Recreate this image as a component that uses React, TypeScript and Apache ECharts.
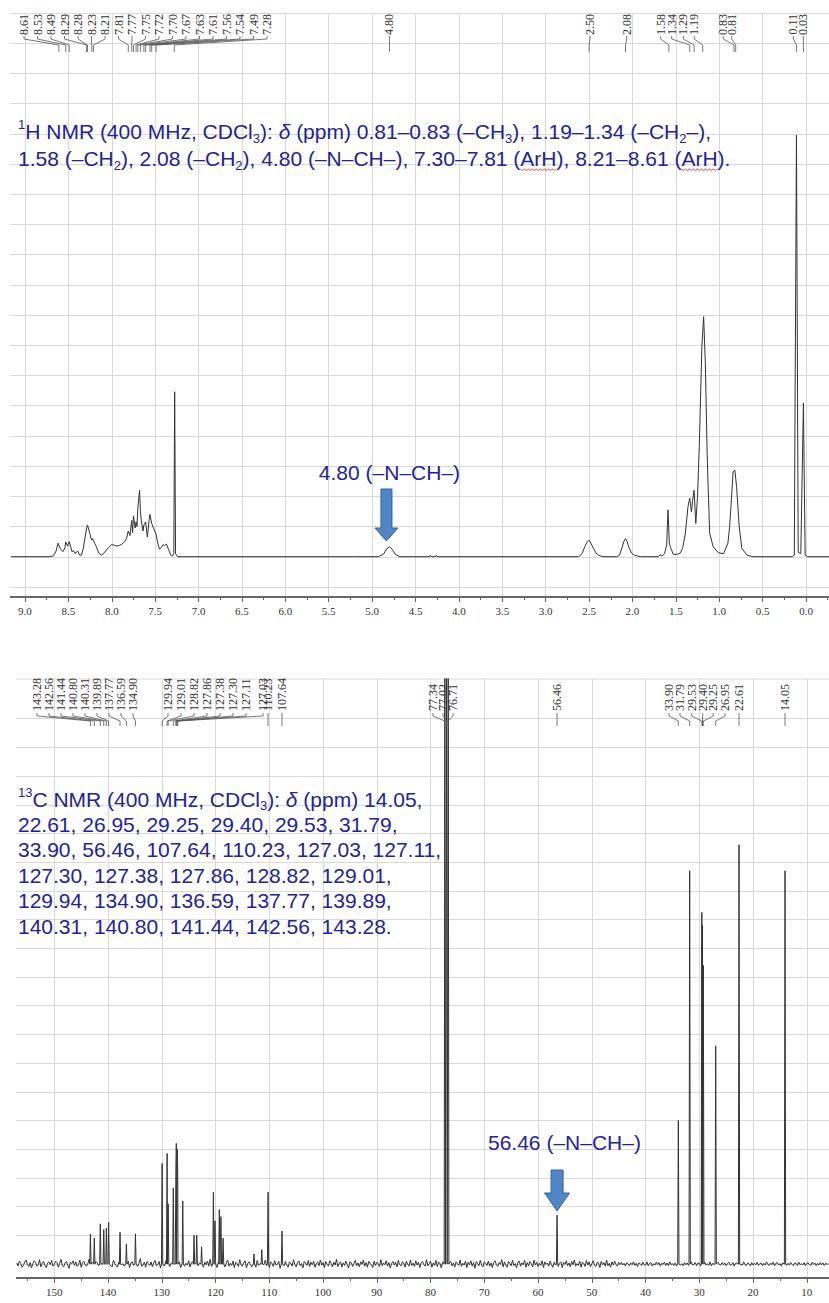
import React, { useEffect, useRef } from "react";
import * as echarts from "echarts";

// ---------------- DATA ----------------
// 1H spectrum trace: [ppm, intensity] (intensity in grid units)
const H_TRACE: [number, number][] = [
  [9.16, 0], [8.72, 0], [8.67, 0.03], [8.64, 0.2], [8.62, 0.45], [8.59, 0.25], [8.56, 0.17], [8.54, 0.3],
  [8.53, 0.49], [8.51, 0.35], [8.49, 0.5], [8.47, 0.3], [8.46, 0.17], [8.44, 0.2], [8.42, 0.1], [8.41, 0.15],
  [8.39, 0.18], [8.37, 0.05], [8.35, 0.05], [8.33, 0.25], [8.31, 0.6], [8.29, 0.95], [8.28, 1.05], [8.26, 0.85],
  [8.24, 0.62], [8.23, 0.55], [8.22, 0.6], [8.21, 0.52], [8.18, 0.35], [8.15, 0.12], [8.12, 0.05], [8.08, 0.15],
  [8.04, 0.3], [8.0, 0.4], [7.97, 0.38], [7.94, 0.35], [7.91, 0.38], [7.89, 0.4], [7.85, 0.5], [7.83, 0.6],
  [7.81, 0.85], [7.79, 0.7], [7.77, 1.2], [7.76, 0.8], [7.75, 1.35], [7.73, 0.95], [7.72, 1.15], [7.71, 1.0],
  [7.7, 1.6], [7.68, 2.2], [7.67, 1.5], [7.66, 1.2], [7.64, 0.85], [7.63, 1.05], [7.61, 1.15], [7.59, 0.65],
  [7.57, 1.2], [7.56, 1.4], [7.54, 1.1], [7.52, 0.95], [7.49, 0.75], [7.47, 0.45], [7.45, 0.25], [7.43, 0.3],
  [7.41, 0.4], [7.39, 0.37], [7.37, 0.42], [7.34, 0.2], [7.32, 0.05], [7.3, 0.02], [7.285, 0.1], [7.275, 5.46],
  [7.265, 0.1], [7.24, 0], [5.2, 0], [4.93, 0], [4.87, 0.08], [4.83, 0.27], [4.8, 0.33], [4.77, 0.25],
  [4.73, 0.07], [4.68, 0], [4.34, 0], [4.33, 0.05], [4.32, 0], [4.27, 0], [4.26, 0.05], [4.25, 0],
  [2.62, 0], [2.58, 0.1], [2.55, 0.33], [2.52, 0.5], [2.5, 0.55], [2.48, 0.45], [2.45, 0.28], [2.42, 0.12],
  [2.39, 0.05], [2.34, 0], [2.18, 0], [2.15, 0.05], [2.12, 0.3], [2.1, 0.5], [2.08, 0.6], [2.06, 0.5],
  [2.04, 0.3], [2.01, 0.12], [1.98, 0.05], [1.91, 0], [1.7, 0], [1.68, 0.07], [1.66, 0.02], [1.63, 0.1],
  [1.605, 0.4], [1.59, 1.55], [1.575, 0.45], [1.56, 0.3], [1.53, 0.08], [1.48, 0.08], [1.45, 0.12], [1.42, 0.3],
  [1.39, 0.78], [1.36, 1.66], [1.34, 1.94], [1.32, 1.48], [1.305, 1.9], [1.29, 2.2], [1.27, 1.1], [1.25, 2.0],
  [1.23, 3.64], [1.2, 6.95], [1.18, 7.95], [1.16, 6.4], [1.14, 3.5], [1.13, 2.54], [1.11, 0.78], [1.07, 0.33],
  [1.01, 0.13], [0.95, 0.1], [0.9, 0.45], [0.88, 1.0], [0.86, 1.88], [0.84, 2.81], [0.82, 2.87], [0.8, 2.32],
  [0.77, 1.0], [0.74, 0.28], [0.68, 0.05], [0.61, 0], [0.16, 0], [0.135, 0.05], [0.11, 13.96], [0.09, 0.15],
  [0.06, 0.1], [0.03, 5.09], [0.01, 0.05], [-0.02, 0], [-0.27, 0],
];

const H_PEAK_LABELS = [
  "8.61", "8.53", "8.49", "8.29", "8.28", "8.23", "8.21", "7.81", "7.77", "7.75", "7.72", "7.70", "7.67",
  "7.63", "7.61", "7.56", "7.54", "7.49", "7.28", "4.80", "2.50", "2.08", "1.58", "1.34", "1.29", "1.19",
  "0.83", "0.81", "0.11", "0.03",
];

// 13C peaks: [ppm, intensity] (intensity in grid units)
const C13_PEAKS: [number, number][] = [
  [143.28, 1.05], [142.56, 0.9], [141.44, 1.4], [140.8, 1.2], [140.31, 1.25], [139.89, 1.45], [137.77, 1.1],
  [136.59, 0.7], [134.9, 1.05], [129.94, 3.5], [129.01, 3.85], [128.82, 2.1], [127.86, 2.65], [127.38, 3.2],
  [127.3, 4.2], [127.11, 4.0], [127.03, 3.15], [126.1, 2.2], [124.0, 1.0], [123.5, 1.0], [122.6, 0.6],
  [120.4, 2.5], [120.1, 1.5], [119.3, 1.9], [119.0, 1.65], [118.6, 0.9], [112.85, 0.35], [111.4, 0.5],
  [110.23, 2.5], [107.64, 1.15], [77.34, 21], [77.02, 21], [76.71, 21], [56.46, 1.7], [33.9, 5.0],
  [31.79, 13.7], [29.53, 12.25], [29.4, 11.8], [29.25, 10.4], [26.95, 7.6], [22.61, 14.6], [14.05, 13.7],
];

// 13C baseline noise (hundredths of a grid unit), from 157 ppm down in 0.25 ppm steps
const C13_NOISE_START = 157;
const C13_NOISE_STEP = 0.25;
const C13_NOISE = [
  3, -5, 8, 2, -9, -4, 6, 11, -2, -7, 4, -11, 1, 9, 5, -6, -3, 12, -8, 2, 7, -4, -10, 3, 6,
  -2, 10, -6, -1, 8, 4, -9, 2, 13, -5, -8, 3, 7, -3, -12, 5, 1, 9, -4, 6, -7, -2, 11, -9, 4,
  8, -3, -6, 2, 14, -8, 5, -1, -10, 7, 3, -5, 9, -2, -7, 4, 12, -11, 1, 6, -4, -8, 10, 2, -5,
  -9, 5, 7, -3, 1, -6, 11, -2, 8, -10, 3, 6, -4, -1, 9, -7, 2, 15, -6, -3, 5, -9, 7, 1, -4,
  6, -8, 3, 10, -5, -2, 7, -11, 4, 1, -6, 9, -3, 12, -7, 2, -4, 8, -9, 5, -1, 6, -10, 3, 11,
  -6, 2, -3, 9, -8, 4, 6, -12, 1, 7, -5, 3, 10, -4, -9, 5, -2, 8, -6, 13, -7, 2, -3, 6, -10,
  4, 9, -5, -1, 7, -8, 3, 11, -6, 2, -4, 8, -10, 5, 1, -7, 12, -3, -6, 4, 9, -11, 2, 6, -2,
  -8, 5, 3, -9, 10, -4, 1, 7, -6, -2, 11, -5, 4, -10, 6, 2, -7, 9, -3, -1, 8, -12, 5, 3, -5,
  7, -3, -9, 6, 2, -6, 12, -2, -8, 4, 9, -5, 1, -11, 7, 3, -4, 10, -7, 5, -2, 8, -9, 1, 6,
  -5, 11, -3, 4, -10, 7, -1, -6, 9, 2, -8, 5, -3, 13, -7, 1, 6, -9, 3, -4, 8, -2, -11, 6, 4,
  -7, 2, 10, -5, 3, -8, 6, -1, 11, -6, 4, -9, 7, 2, -3, -10, 8, -4, 5, 1, -7, 12, -5, 3, -2,
  9, -6, 4, -11, 1, 7, -3, 5, -8, 10, -2, -5, 6, 3, -9, 8, -1, -6, 11, -4, 2, -7, 9, -3, 5,
  -10, 4, 7, -2, -6, 12, -5, 1, 8, -9, 3, -4, 10, -7, 5, 2, -11, 6, -3, 9, -1, -8, 4, 7, -5,
  3, -9, 6, 1, -4, 11, -7, 2, -3, 8, -10, 5, -2, 9, -6, 4, -12, 7, 1, -5, 10, -3, -8, 6, 2,
  -4, 8, -6, 3, -10, 5, 9, -2, -7, 4, -1, 12, -8, 6, -3, -9, 7, 2, -5, 10, -4, 1, -11, 5, 8,
  -6, 3, -2, 10, -9, 4, -5, 7, 1, -8, 11, -3, 5, -7, 2, -4, 9, -10, 6, -1, 3, -6, 8, -2, -9,
  5, -3, 12, -7, 2, 6, -10, 4, -1, 9, -5, 3, -8, 7, -2, 11, -6, 1, -4, 8, -9, 5, 2, -7, 10,
  -3, 6, -8, 1, 9, -4, -7, 5, 3, -10, 7, -2, 4, -6, 11, -5, 2, -9, 6, -3, 8, -1, -6, 4, -2,
  5, -3, 2, -6, 4, 1, -5, 3, -2, 6, -4, 2, -7, 3, 1, -4, 5, -2, -3, 6, -5, 2, 4, -6, 1,
  -3, 5, -2, 4, -6, 2, -1, 5, -4, 3, -5, 6, -2, 1, -4, 3, -6, 2, 5, -3, 1, -5, 4, -2, 3,
  -4, 2, 6, -3, -1, 4, -5, 3, 2, -6, 4, -2, 5, -3, 1, -4, 6, -5, 2, -1, 3, -4, 5, -2, -3,
  4, -2, 3, -5, 1, 5, -3, -2, 4, -6, 2, 3, -4, 5, -1, -3, 6, -2, -4, 3, 1, -5, 4, -3, 2,
  -2, 5, -4, 1, 3, -5, 2, -3, 6, -1, -4, 3, -2, 5, -5, 2, 4, -3, 1, -6, 3, -2, 5, -4, 2,
  -3, 4, -1, -5, 3, 2, -4, 5, -2, 1, -3, 4, -5, 2, 3, -2, -4, 5, -1, 3, -5, 2, -3, 4, -2,
  3, -4, 2, -1, 1,
];

const C13_PEAK_LABELS = [
  "143.28", "142.56", "141.44", "140.80", "140.31", "139.89", "137.77", "136.59", "134.90",
  "129.94", "129.01", "128.82", "127.86", "127.38", "127.30", "127.11", "127.03", "110.23", "107.64",
  "77.34", "77.02", "76.71", "56.46", "33.90", "31.79", "29.53", "29.40", "29.25", "26.95", "22.61", "14.05",
];

const H_TEXT = [
  "{sup|1}H NMR (400 MHz, CDCl{sub|3}): {it|δ} (ppm) 0.81–0.83 (–CH{sub|3}), 1.19–1.34 (–CH{sub|2}–),",
  "1.58 (–CH{sub|2}), 2.08 (–CH{sub|2}), 4.80 (–N–CH–), 7.30–7.81 (ArH), 8.21–8.61 (ArH).",
];
const C13_TEXT = [
  "{sup|13}C NMR (400 MHz, CDCl{sub|3}): {it|δ} (ppm) 14.05,",
  "22.61, 26.95, 29.25, 29.40, 29.53, 31.79,",
  "33.90, 56.46, 107.64, 110.23, 127.03, 127.11,",
  "127.30, 127.38, 127.86, 128.82, 129.01,",
  "129.94, 134.90, 136.59, 137.77, 139.89,",
  "140.31, 140.80, 141.44, 142.56, 143.28.",
];
const H_ARROW_TEXT = "4.80 (–N–CH–)";
const H_ARROW_PPM = 4.8;
const C13_ARROW_TEXT = "56.46 (–N–CH–)";
const C13_ARROW_PPM = 56.46;

// ---------------- LAYOUT (pixels) ----------------
const H_LABEL_X: (number | null)[] = [
  24, 37.5, 51, 64.5, 78, 91.5, 105, 118.5, 132, 145.5, 159, 172.5, 186, 199.5, 213, 226.5, 240, 253.5, 267,
  null, 590, 626.7, 660.7, 671.7, 683.3, 694.3, 723.3, 731.7, 793.3, 803.3,
];
const C13_LABEL_X: (number | null)[] = [
  37, 49, 61, 73, 85, 97, 109, 121, 133,
  168, 181, 194, 207, 220, 233, 246, 263, 268, 282,
  433, 443, 453, null, 669, 680, 691.7, 702.7, 713.3, 725, null, null,
];

const SANS = "'Liberation Sans', Arial, sans-serif";
const SERIF = "'Liberation Serif', 'Times New Roman', serif";
const GRID_COLOR = "#d9d9d9";
const TRACE_COLOR = "#333333";
const BLUE_TEXT = "#2222a0";
const ARROW_FILL = "#4f86c6";
const ARROW_STROKE = "#35649c";

function buildC13Trace(): [number, number][] {
  const pts: [number, number][] = [];
  const w = 0.12;
  C13_NOISE.forEach((v, i) => {
    const p = C13_NOISE_START - i * C13_NOISE_STEP;
    if (!C13_PEAKS.some(([pp]) => Math.abs(pp - p) < 0.2)) pts.push([p, v / 80]);
  });
  C13_PEAKS.forEach(([p, h]) => {
    pts.push([p + w, 0], [p, h], [p - w, 0]);
  });
  pts.sort((a, b) => b[0] - a[0]);
  return pts;
}

function xAxisMain(grid: number, min: number, max: number, interval: number, digits: number) {
  return {
    gridIndex: grid,
    type: "value",
    min,
    max,
    interval,
    inverse: true,
    axisLine: { show: true, onZero: false, lineStyle: { color: "#666", width: 2 } },
    axisTick: { show: true, length: 5, lineStyle: { color: "#666", width: 1 } },
    minorTick: { show: true, splitNumber: 2, length: 3, lineStyle: { color: "#666", width: 1 } },
    axisLabel: {
      show: true,
      margin: 8,
      fontFamily: SERIF,
      fontSize: 11,
      color: "#333",
      formatter: (v: number) => (v === min || v === max ? "" : Number(v).toFixed(digits)),
    },
    splitLine: { show: true, lineStyle: { color: GRID_COLOR, width: 1 } },
  };
}

function hiddenX(grid: number, min: number, max: number) {
  return { gridIndex: grid, type: "value", min, max, inverse: true, show: false };
}

function gridY(grid: number, min: number, max: number) {
  return {
    gridIndex: grid,
    type: "value",
    min,
    max,
    interval: 1,
    axisLine: { show: false },
    axisTick: { show: false },
    axisLabel: { show: false },
    splitLine: { show: true, lineStyle: { color: GRID_COLOR, width: 1 } },
  };
}

function buildOption() {
  const ob = { outerBoundsMode: "none", containLabel: false };
  return {
    animation: false,
    backgroundColor: "#ffffff",
    grid: [
      { ...ob, left: -18.4, width: 867.8, top: 13, height: 584 },
      { ...ob, left: -18.4, width: 867.8, top: 13, height: 574 },
      { ...ob, left: 0.55, width: 860, top: 679, height: 599, show: true, borderColor: GRID_COLOR, borderWidth: 1 },
      { ...ob, left: 0.55, width: 860, top: 718.7, height: 545.3 },
    ],
    xAxis: [
      xAxisMain(0, -0.5, 9.5, 0.5, 1),
      hiddenX(1, -0.5, 9.5),
      xAxisMain(2, 0, 160, 10, 0),
      hiddenX(3, 0, 160),
    ],
    yAxis: [
      { gridIndex: 0, type: "value", min: -1.334, max: 18, show: false },
      gridY(1, -1, 18),
      { gridIndex: 2, type: "value", min: -0.488, max: 20.38, show: false },
      gridY(3, 0, 19),
    ],
    series: [
      {
        type: "line",
        name: "1H",
        xAxisIndex: 0,
        yAxisIndex: 0,
        data: H_TRACE,
        showSymbol: false,
        symbol: "none",
        clip: true,
        lineStyle: { color: TRACE_COLOR, width: 1 },
        z: 5,
      },
      {
        type: "line",
        name: "13C",
        xAxisIndex: 2,
        yAxisIndex: 2,
        data: buildC13Trace(),
        showSymbol: false,
        symbol: "none",
        clip: true,
        lineStyle: { color: TRACE_COLOR, width: 1 },
        z: 5,
      },
    ],
  };
}

function richStyles(lineH: number) {
  return {
    sup: { fontSize: 13, fontFamily: SANS, fill: BLUE_TEXT, lineHeight: 18, verticalAlign: "top" },
    sub: { fontSize: 13, fontFamily: SANS, fill: BLUE_TEXT, lineHeight: 16, verticalAlign: "bottom" },
    it: { fontSize: 21, fontFamily: SANS, fontStyle: "italic", fill: BLUE_TEXT, lineHeight: lineH },
  };
}

function arrow(cx: number, top: number, shaftBottom: number, tip: number, shaftHalf: number, headHalf: number) {
  return {
    type: "polygon",
    z: 110,
    silent: true,
    shape: {
      points: [
        [cx - shaftHalf, top],
        [cx + shaftHalf, top],
        [cx + shaftHalf, shaftBottom],
        [cx + headHalf, shaftBottom],
        [cx, tip],
        [cx - headHalf, shaftBottom],
        [cx - shaftHalf, shaftBottom],
      ],
    },
    style: { fill: ARROW_FILL, stroke: ARROW_STROKE, lineWidth: 1 },
  };
}

// width of a text run, measured with the same font the chart uses
function measure(text: string, size: number): number {
  const c = document.createElement("canvas").getContext("2d");
  if (!c) return text.length * size * 0.5;
  c.font = `${size}px ${SANS}`;
  return c.measureText(text).width;
}

export default function App() {
  const ref = useRef<HTMLDivElement>(null);
  useEffect(() => {
    const el = ref.current;
    if (!el) return;
    const chart = echarts.init(el, null, { renderer: "svg" });
    chart.setOption(buildOption() as any);

    const px = (axis: number, v: number) => chart.convertToPixel({ xAxisIndex: axis } as any, v) as unknown as number;
    const elements: any[] = [];

    // cover the left margins (plot areas extend past the visible edge)
    elements.push({ type: "rect", z: 100, silent: true, shape: { x: 0, y: 0, width: 10, height: 640 }, style: { fill: "#fff" } });
    elements.push({ type: "rect", z: 100, silent: true, shape: { x: 0, y: 650, width: 16, height: 653 }, style: { fill: "#fff" } });

    // 1H peak labels
    H_PEAK_LABELS.forEach((lab, i) => {
      const xp = px(0, parseFloat(lab));
      const xl = H_LABEL_X[i] == null ? xp : (H_LABEL_X[i] as number);
      elements.push({
        type: "text", z: 105, silent: true, x: xl, y: 14, rotation: Math.PI / 2,
        style: { text: lab, fontSize: 12, fontFamily: SERIF, fill: "#333", align: "right", verticalAlign: "middle" },
      });
      elements.push({
        type: "polyline", z: 105, silent: true,
        shape: { points: [[xl, 36], [xl, 39], [xp, 45], [xp, 52]] },
        style: { stroke: "#555", lineWidth: 0.8, fill: null },
      });
    });

    // 13C peak labels
    C13_PEAK_LABELS.forEach((lab, i) => {
      const xp = px(2, parseFloat(lab));
      const xl = C13_LABEL_X[i] == null ? xp : (C13_LABEL_X[i] as number);
      elements.push({
        type: "text", z: 105, silent: true, x: xl, y: 711, rotation: Math.PI / 2,
        style: { text: lab, fontSize: 12, fontFamily: SERIF, fill: "#333", align: "left", verticalAlign: "middle" },
      });
      elements.push({
        type: "polyline", z: 105, silent: true,
        shape: { points: [[xl, 713], [xl, 716], [xp, 721], [xp, 726]] },
        style: { stroke: "#555", lineWidth: 0.8, fill: null },
      });
    });

    // text blocks
    const hY = [131, 158];
    H_TEXT.forEach((t, i) => {
      elements.push({
        type: "text", z: 110, silent: true, x: 18, y: hY[i],
        style: {
          text: t, fontSize: 21, fontFamily: SANS, fill: BLUE_TEXT, align: "left", verticalAlign: "middle",
          lineHeight: 27, rich: richStyles(27),
        },
      });
    });
    C13_TEXT.forEach((t, i) => {
      elements.push({
        type: "text", z: 110, silent: true, x: 18, y: 799 + i * 25.4,
        style: {
          text: t, fontSize: 21, fontFamily: SANS, fill: BLUE_TEXT, align: "left", verticalAlign: "middle",
          lineHeight: 25.4, rich: richStyles(25.4),
        },
      });
    });

    // red spell-check squiggles under "ArH" in the second 1H line
    const sub2 = measure("2", 13);
    const pre1 = measure("1.58 (–CH", 21) + sub2 + measure("), 2.08 (–CH", 21) + sub2 + measure("), 4.80 (–N–CH–), 7.30–7.81 (", 21);
    const arhW = measure("ArH", 21);
    const pre2 = pre1 + arhW + measure("), 8.21–8.61 (", 21);
    [pre1, pre2].forEach((off) => {
      const x0 = 18 + off;
      const pts: number[][] = [];
      for (let k = 0; k * 2 <= arhW; k++) pts.push([x0 + k * 2, 169 + (k % 2 === 0 ? 0 : 1.5)]);
      elements.push({
        type: "polyline", z: 111, silent: true, shape: { points: pts },
        style: { stroke: "#e03030", lineWidth: 0.9, fill: null },
      });
    });

    // arrows and their labels
    const hx = px(0, H_ARROW_PPM);
    elements.push({
      type: "text", z: 110, silent: true, x: hx, y: 472,
      style: { text: H_ARROW_TEXT, fontSize: 21, fontFamily: SANS, fill: BLUE_TEXT, align: "center", verticalAlign: "middle" },
    });
    elements.push(arrow(hx - 3, 489, 528, 541, 5.5, 11.5));

    const cx = px(2, C13_ARROW_PPM);
    elements.push({
      type: "text", z: 110, silent: true, x: 488, y: 1142,
      style: { text: C13_ARROW_TEXT, fontSize: 21, fontFamily: SANS, fill: BLUE_TEXT, align: "left", verticalAlign: "middle" },
    });
    elements.push(arrow(cx, 1170, 1193, 1211, 6, 12.5));

    chart.setOption({ graphic: { elements } } as any);
    return () => chart.dispose();
  }, []);
  return (
    <div
      ref={ref}
      style={{ position: "absolute", left: 0, top: 0, width: 829, height: 1303, background: "#fff" }}
    />
  );
}
